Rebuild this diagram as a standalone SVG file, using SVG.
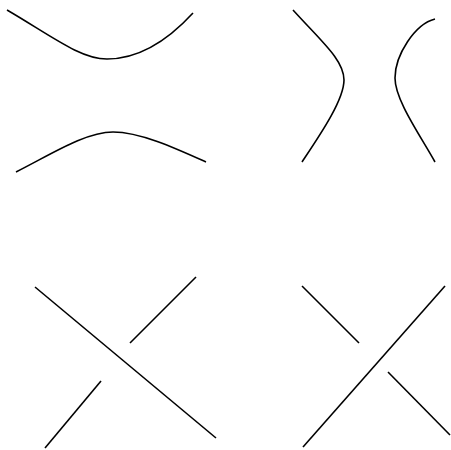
<svg xmlns="http://www.w3.org/2000/svg" width="451" height="450" viewBox="0 0 451 450">
<style>.s{fill:none;stroke:#000;stroke-width:1.6;stroke-linecap:butt}</style>
<rect width="451" height="450" fill="#fff"/>
<g id="connectors">
<g id="smooth-h">
<path class="s" d="M7,10 C50,35 80,59 107,59 C140,59 170,38 193,13"/>
<path class="s" d="M16,172 C50,155 85,132 113,132 C140,132 175,148 206,162"/>
</g>
<g id="smooth-v">
<path class="s" d="M293,10 C322,42 344,60 344,80 C344,100 320,135 302,162"/>
<path class="s" d="M435,19 C415,24 395,55 395,78 C395,100 420,135 435,162"/>
</g>
<g id="crossing-neg">
<path class="s" d="M35,287 L216,438"/>
<path class="s" d="M130,343 L196,277"/>
<path class="s" d="M101,381 L45,448"/>
</g>
<g id="crossing-pos">
<path class="s" d="M302,286 L359,343"/>
<path class="s" d="M303,447 L445,286"/>
<path class="s" d="M388,372 L450,435"/>
</g>
</g>
</svg>
